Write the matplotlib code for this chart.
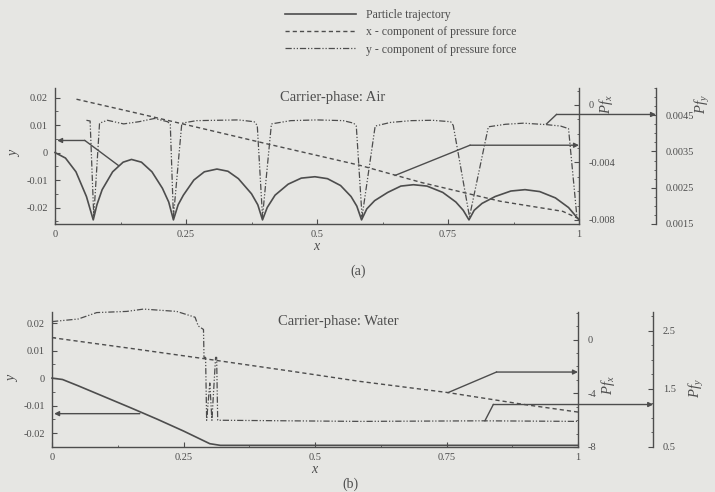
import matplotlib.pyplot as plt
from matplotlib.ticker import AutoMinorLocator, FixedLocator
import numpy as np

plt.rcParams['font.family'] = 'Liberation Serif'
plt.rcParams['mathtext.fontset'] = 'custom'
plt.rcParams['mathtext.it'] = 'Liberation Serif:italic'
plt.rcParams['mathtext.rm'] = 'Liberation Serif'
plt.rcParams['axes.unicode_minus'] = False

INK = '#4d4d4d'
PAPER = '#e6e6e3'

# ---------------- (a) carrier phase: air ----------------
air_traj_x = [0.0, 0.02, 0.04, 0.06, 0.073,
              0.08, 0.09, 0.11, 0.13, 0.146, 0.165, 0.185, 0.205, 0.217, 0.226,
              0.235, 0.245, 0.265, 0.285, 0.309, 0.33, 0.35, 0.375, 0.387, 0.396,
              0.405, 0.42, 0.445, 0.47, 0.496, 0.52, 0.545, 0.565, 0.576, 0.585,
              0.595, 0.61, 0.635, 0.66, 0.684, 0.71, 0.74, 0.765, 0.779, 0.79,
              0.80, 0.815, 0.84, 0.87, 0.897, 0.925, 0.955, 0.98, 1.0]
air_traj_y = [0.0, -0.002, -0.007, -0.016, -0.0245,
              -0.019, -0.0135, -0.007, -0.0035, -0.0025, -0.0035, -0.007, -0.013, -0.018, -0.0245,
              -0.019, -0.0155, -0.010, -0.007, -0.006, -0.0068, -0.0095, -0.015, -0.019, -0.0245,
              -0.020, -0.0155, -0.0115, -0.0093, -0.0088, -0.0095, -0.012, -0.016, -0.0195, -0.0245,
              -0.0205, -0.0175, -0.0145, -0.0122, -0.0117, -0.0122, -0.0145, -0.018, -0.021, -0.0245,
              -0.021, -0.0185, -0.016, -0.014, -0.0135, -0.0142, -0.0165, -0.020, -0.0245]

air_pfx_x = [0.041, 0.16, 0.30, 0.404, 0.582, 0.70, 0.85, 0.969, 0.999]
air_pfx = [0.0004, -0.0006, -0.0018, -0.0027, -0.0042, -0.0054, -0.0067, -0.0074, -0.0079]

air_pfy_x = [0.060, 0.067, 0.074, 0.085, 0.10, 0.131, 0.16, 0.19, 0.215, 0.220, 0.226, 0.242,
             0.27, 0.31, 0.35, 0.38, 0.386, 0.396, 0.413, 0.45, 0.50, 0.55, 0.570, 0.575,
             0.586, 0.611, 0.64, 0.68, 0.72, 0.755, 0.760, 0.791, 0.827, 0.86, 0.894,
             0.938, 0.965, 0.980, 0.996]
air_pfy = [0.00436, 0.00434, 0.0017, 0.00428, 0.00436, 0.00426, 0.00432, 0.00441, 0.00432,
           0.00425, 0.0017, 0.00428, 0.00435, 0.00436, 0.00437, 0.00432, 0.00422, 0.0017,
           0.00426, 0.00435, 0.00437, 0.00435, 0.00428, 0.00420, 0.0017, 0.00420, 0.00430,
           0.00435, 0.00436, 0.00432, 0.00422, 0.0017, 0.00418, 0.00425, 0.00428, 0.00424,
           0.00420, 0.00413, 0.0017]

# connector arrows: polyline from a curve to its axis
air_arrow_traj = ([0.121, 0.057], [-0.0047, 0.0044])
air_arrow_pfx = ([0.649, 0.792], [-0.0049, -0.0028])
air_arrow_pfy = ([0.938, 0.957], [0.00426, 0.00452])

# ---------------- (b) carrier phase: water ----------------
wat_traj_x = [0.0, 0.02, 0.05, 0.10, 0.15, 0.20, 0.25, 0.30, 0.32, 1.0]
wat_traj_y = [0.0, -0.0005, -0.0028, -0.0068, -0.0108, -0.0149, -0.0192, -0.0238, -0.0244, -0.0244]

wat_pfx_x = [0.0, 0.15, 0.294, 0.45, 0.586, 0.753, 0.9, 1.0]
wat_pfx = [0.14, -0.66, -1.45, -2.33, -3.12, -3.95, -4.85, -5.4]

wat_pfy_x = [0.0, 0.05, 0.085, 0.142, 0.174, 0.237, 0.272, 0.278, 0.283, 0.288,
             0.289, 0.292, 0.294, 0.300, 0.304, 0.311, 0.313, 0.315,
             0.45, 0.586, 0.82, 0.998]
wat_pfy = [2.655, 2.70, 2.81, 2.83, 2.87, 2.83, 2.73, 2.58, 2.55, 2.52,
           2.04, 2.04, 0.96, 1.6, 0.96, 2.04, 2.04, 0.96,
           0.95, 0.94, 0.95, 0.94]

wat_arrow_traj = ([0.167], [-0.0129])
wat_arrow_pfx = ([0.753, 0.845], [-3.95, -2.42])
wat_arrow_pfy = ([0.823, 0.839], [0.95, 1.23])

x_ticks = [0, 0.25, 0.5, 0.75, 1]
x_labels = ['0', '0.25', '0.5', '0.75', '1']
y_ticks = [0.02, 0.01, 0, -0.01, -0.02]
y_labels = ['0.02', '0.01', '0', '-0.01', '-0.02']

air_pfx_ticks = [0, -0.004, -0.008]
air_pfx_labels = ['0', '-0.004', '-0.008']
air_pfy_ticks = [0.0045, 0.0035, 0.0025, 0.0015]
air_pfy_labels = ['0.0045', '0.0035', '0.0025', '0.0015']
wat_pfx_ticks = [0, -4, -8]
wat_pfx_labels = ['0', '-4', '-8']
wat_pfy_ticks = [2.5, 1.5, 0.5]
wat_pfy_labels = ['2.5', '1.5', '0.5']

W, H = 715, 492
fig = plt.figure(figsize=(7.15, 4.92), dpi=100, facecolor=PAPER)


def style_ticks(a, which_axis, minor_n):
    a.tick_params(axis=which_axis, which='major', direction='in', length=3.5, width=0.8,
                  colors=INK, labelsize=7.5, labelcolor=INK)
    a.tick_params(axis=which_axis, which='minor', direction='in', length=1.8, width=0.6,
                  colors=INK)
    if which_axis == 'x':
        a.xaxis.set_minor_locator(AutoMinorLocator(minor_n))
    else:
        a.yaxis.set_minor_locator(AutoMinorLocator(minor_n))


def connector(a, xs, ys, target):
    a.plot(xs, ys, color=INK, lw=1.0, clip_on=False)
    a.annotate('', xy=(target, ys[-1]), xycoords=a.get_yaxis_transform(),
               xytext=(xs[-1], ys[-1]), textcoords='data',
               arrowprops=dict(arrowstyle='-|>', color=INK, lw=1.0, shrinkA=0, shrinkB=0,
                               mutation_scale=7),
               annotation_clip=False)


def fig_label(px, py, s, rot=90, size=10.5):
    fig.text(px / W, 1 - py / H, s, ha='center', va='center', rotation=rot,
             fontsize=size, color=INK)


def panel(rect, ylim, pfx_lim, pfy_lim, pfy_pos, pfx_t, pfx_l, pfy_t, pfy_l,
          traj, pfx, pfy, arrows, title, title_xy):
    ax = fig.add_axes(rect)
    ax.set_facecolor('none')
    axx = ax.twinx()
    axy = ax.twinx()
    ax.set_xlim(0, 1)
    ax.set_ylim(*ylim)
    axx.set_ylim(*pfx_lim)
    axy.set_ylim(*pfy_lim)

    for a in (ax, axx, axy):
        for s in a.spines.values():
            s.set_color(INK)
            s.set_linewidth(1.0)
        a.spines['top'].set_visible(False)
    ax.spines['right'].set_visible(False)
    for a in (axx, axy):
        a.spines['left'].set_visible(False)
        a.spines['bottom'].set_visible(False)
    axy.spines['right'].set_position(('axes', pfy_pos))

    ax.xaxis.set_major_locator(FixedLocator(x_ticks))
    ax.set_xticklabels(x_labels)
    ax.yaxis.set_major_locator(FixedLocator(y_ticks))
    ax.set_yticklabels(y_labels)
    axx.yaxis.set_major_locator(FixedLocator(pfx_t))
    axx.set_yticklabels(pfx_l)
    axy.yaxis.set_major_locator(FixedLocator(pfy_t))
    axy.set_yticklabels(pfy_l)
    style_ticks(ax, 'x', 2)
    style_ticks(ax, 'y', 2)
    style_ticks(axx, 'y', 4)
    style_ticks(axy, 'y', 4)
    ax.tick_params(axis='x', pad=4)
    ax.tick_params(axis='y', pad=5)
    axx.tick_params(axis='y', pad=7)
    axy.tick_params(axis='y', pad=7)

    l1, = ax.plot(traj[0], traj[1], color=INK, lw=1.2, clip_on=False)
    l2, = axx.plot(pfx[0], pfx[1], color=INK, lw=1.0, ls=(0, (3, 2.2)), clip_on=False)
    l3, = axy.plot(pfy[0], pfy[1], color=INK, lw=0.9, ls=(0, (5, 1.5, 1, 1.5, 1, 1.5)),
                   clip_on=False)

    connector(ax, *arrows[0], 0.004)
    connector(axx, *arrows[1], 1.0)
    connector(axy, *arrows[2], pfy_pos)

    ax.text(title_xy[0], title_xy[1], title, transform=ax.transAxes, ha='center',
            va='center', fontsize=10.5, color=INK)
    ax.set_xlabel('$x$', fontsize=10, color=INK, labelpad=1)
    return l1, l2, l3


lines = panel([55 / W, 1 - 224 / H, 524 / W, 136 / H],
              (-0.026, 0.0235), (-0.00828, 0.00118), (0.0015, 0.00525), 1.147,
              air_pfx_ticks, air_pfx_labels, air_pfy_ticks, air_pfy_labels,
              (air_traj_x, air_traj_y), (air_pfx_x, air_pfx), (air_pfy_x, air_pfy),
              (air_arrow_traj, air_arrow_pfx, air_arrow_pfy),
              'Carrier-phase: Air', (0.53, 0.93))

panel([52 / W, 1 - 447 / H, 526 / W, 135 / H],
      (-0.025, 0.024), (-8, 2.05), (0.5, 2.82), 1.143,
      wat_pfx_ticks, wat_pfx_labels, wat_pfy_ticks, wat_pfy_labels,
      (wat_traj_x, wat_traj_y), (wat_pfx_x, wat_pfx), (wat_pfy_x, wat_pfy),
      (wat_arrow_traj, wat_arrow_pfx, wat_arrow_pfy),
      'Carrier-phase: Water', (0.544, 0.93))

# axis titles placed where the reference shows them
fig_label(15, 152, '$y$', size=10)
fig_label(606, 104, '$Pf_x$')
fig_label(703, 104, '$Pf_y$')
fig_label(13, 377, '$y$', size=10)
fig_label(608, 385, '$Pf_x$')
fig_label(696, 388, '$Pf_y$')

fig.legend(lines, ['Particle trajectory', 'x - component of pressure force',
                   'y - component of pressure force'],
           loc='upper left', bbox_to_anchor=(285 / W, 1 - 9 / H), frameon=False,
           fontsize=8.5, handlelength=6, labelspacing=0.45, handletextpad=0.9,
           borderpad=0, borderaxespad=0, labelcolor=INK)

fig.text(358 / W, 1 - 271 / H, '(a)', ha='center', va='center', fontsize=10, color=INK)
fig.text(350 / W, 1 - 484 / H, '(b)', ha='center', va='center', fontsize=10, color=INK)

fig.savefig('out.png', dpi=100, facecolor=PAPER)
